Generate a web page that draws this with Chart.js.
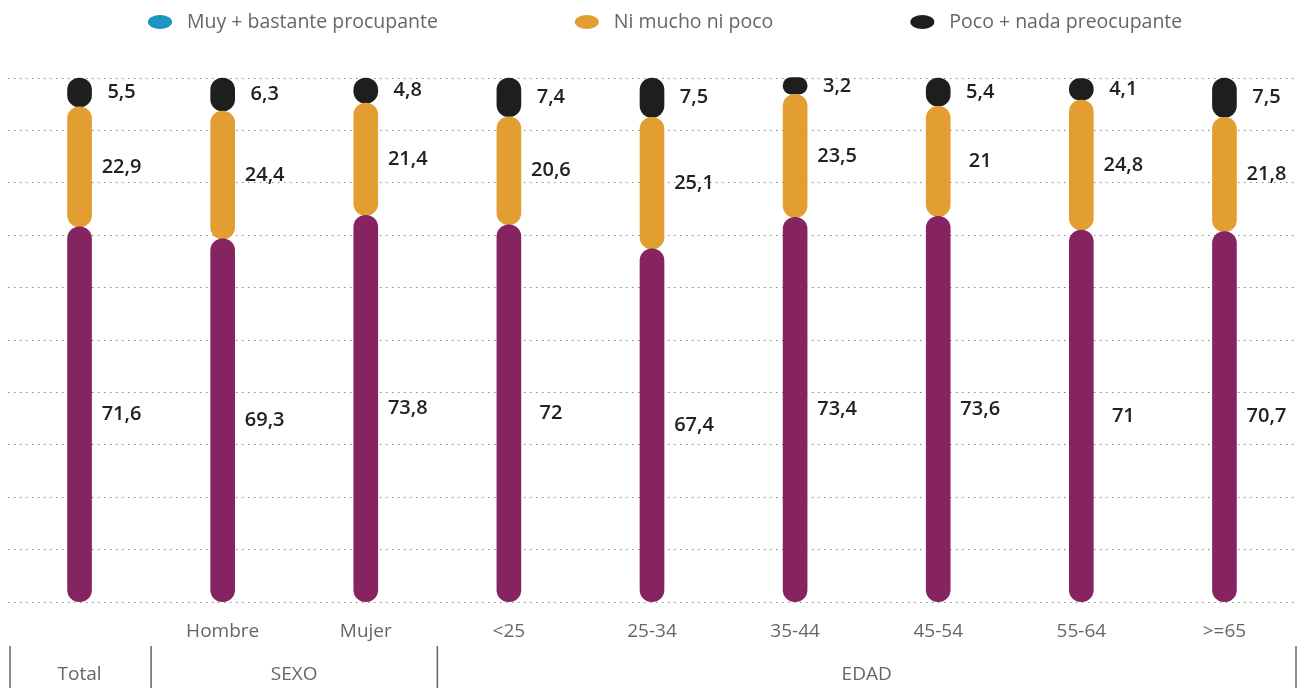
<!DOCTYPE html>
<html>
<head>
<meta charset="utf-8">
<script src="https://cdn.jsdelivr.net/npm/chart.js@4.4.0/dist/chart.umd.min.js"></script>
<style>
  html, body { margin: 0; padding: 0; background: #fff; }
  #wrap { width: 1301px; height: 688px; }
</style>
</head>
<body>
<div id="wrap"><canvas id="grafico"></canvas></div>
<script>
// datos
const categorias = ['Total', 'Hombre', 'Mujer', '<25', '25-34', '35-44', '45-54', '55-64', '>=65'];
const etiquetasX = ['', 'Hombre', 'Mujer', '<25', '25-34', '35-44', '45-54', '55-64', '>=65'];
const muyBastante = [71.6, 69.3, 73.8, 72, 67.4, 73.4, 73.6, 71, 70.7];
const niMuchoNiPoco = [22.9, 24.4, 21.4, 20.6, 25.1, 23.5, 21, 24.8, 21.8];
const pocoNada = [5.5, 6.3, 4.8, 7.4, 7.5, 3.2, 5.4, 4.1, 7.5];
const series = ['Muy + bastante procupante', 'Ni mucho ni poco', 'Poco + nada preocupante'];
const grupos = [
  { label: 'Total', desde: 0, hasta: 0 },
  { label: 'SEXO', desde: 1, hasta: 2 },
  { label: 'EDAD', desde: 3, hasta: 8 },
];
const ticksY = [0, 10, 20, 30, 40, 50, 60, 70, 80, 90, 100];

const FUENTE = "'Open Sans', sans-serif";
const coloresBarra = ['#862361', '#e29e31', '#1e1e1c'];
const coloresLeyenda = ['#1b95c3', '#e29e31', '#1e1e1c'];

//LEYENDA
const pluginLeyenda = {
  id: 'leyenda',
  afterDraw(chart) {
    const ctx = chart.ctx;
    ctx.save();
    ctx.font = '19.5px ' + FUENTE;
    ctx.textBaseline = 'middle';
    let x = 148;
    const y = 22;
    series.forEach((txt, i) => {
      ctx.fillStyle = coloresLeyenda[i];
      ctx.beginPath();
      ctx.ellipse(x + 12, y, 12, 7, 0, 0, Math.PI * 2);
      ctx.fill();
      ctx.fillStyle = '#666';
      ctx.textAlign = 'left';
      ctx.fillText(txt, x + 39, y);
      x += 39 + ctx.measureText(txt).width + 137;
    });
    ctx.restore();
  },
};

//ETIQUETAS DE VALOR
const pluginValores = {
  id: 'valores',
  afterDatasetsDraw(chart) {
    const ctx = chart.ctx;
    ctx.save();
    ctx.font = '600 20px ' + FUENTE;
    ctx.fillStyle = '#222';
    ctx.textAlign = 'center';
    ctx.textBaseline = 'middle';
    chart.data.datasets.forEach((ds, i) => {
      const meta = chart.getDatasetMeta(i);
      meta.data.forEach((el, j) => {
        const p = el.getProps(['x', 'y', 'base'], true);
        const txt = String(ds.data[j]).replace('.', ',');
        ctx.fillText(txt, p.x + 42, (p.y + p.base) / 2);
      });
    });
    ctx.restore();
  },
};

//GRUPOS EJE X
const pluginGrupos = {
  id: 'grupos',
  afterDraw(chart) {
    const ctx = chart.ctx;
    const xs = chart.scales.x;
    const paso = xs.getPixelForValue(1) - xs.getPixelForValue(0);
    ctx.save();
    ctx.strokeStyle = '#666';
    ctx.lineWidth = 1.5;
    ctx.font = '19px ' + FUENTE;
    ctx.fillStyle = '#666';
    ctx.textAlign = 'center';
    ctx.textBaseline = 'middle';
    const linea = (x) => {
      ctx.beginPath();
      ctx.moveTo(x, 646);
      ctx.lineTo(x, 688);
      ctx.stroke();
    };
    grupos.forEach((g, i) => {
      const x0 = xs.getPixelForValue(g.desde) - paso / 2;
      const x1 = xs.getPixelForValue(g.hasta) + paso / 2;
      if (i === 0) linea(x0 + 2);
      linea(x1);
      ctx.fillText(g.label, (x0 + x1) / 2, 675);
    });
    ctx.restore();
  },
};

function crearDataset(label, data, color) {
  return {
    label: label,
    data: data,
    backgroundColor: color,
    barThickness: 24,
    // objeto para que redondee tambien los tramos intermedios
    borderRadius: { topLeft: 12, topRight: 12, bottomLeft: 12, bottomRight: 12 },
    borderSkipped: false,
    borderWidth: 0,
    clip: false,
  };
}

new Chart(document.getElementById('grafico'), {
  type: 'bar',
  data: {
    labels: categorias,
    datasets: [
      crearDataset(series[0], muyBastante, coloresBarra[0]),
      crearDataset(series[1], niMuchoNiPoco, coloresBarra[1]),
      crearDataset(series[2], pocoNada, coloresBarra[2]),
    ],
  },
  options: {
    responsive: true,
    maintainAspectRatio: false,
    animation: false,
    layout: {
      padding: { left: 8, right: 5, top: 78, bottom: 27 },
    },
    plugins: {
      legend: { display: false },
      tooltip: { enabled: false },
    },
    scales: {
      x: {
        stacked: true,
        grid: { display: false, drawTicks: false },
        border: { display: false },
        ticks: {
          padding: 18,
          color: '#666',
          font: { family: FUENTE, size: 19 },
          maxRotation: 0,
          autoSkip: false,
          callback: (v, i) => etiquetasX[i],
        },
      },
      y: {
        stacked: true,
        min: 0,
        max: 100,
        afterBuildTicks: (axis) => {
          axis.ticks = ticksY.map((v) => ({ value: v }));
        },
        ticks: { display: false },
        border: { display: false, dash: [1.5, 4.5] },
        grid: {
          color: '#888',
          lineWidth: 1,
          drawTicks: false,
        },
      },
    },
  },
  plugins: [pluginLeyenda, pluginValores, pluginGrupos],
});
</script>
</body>
</html>
